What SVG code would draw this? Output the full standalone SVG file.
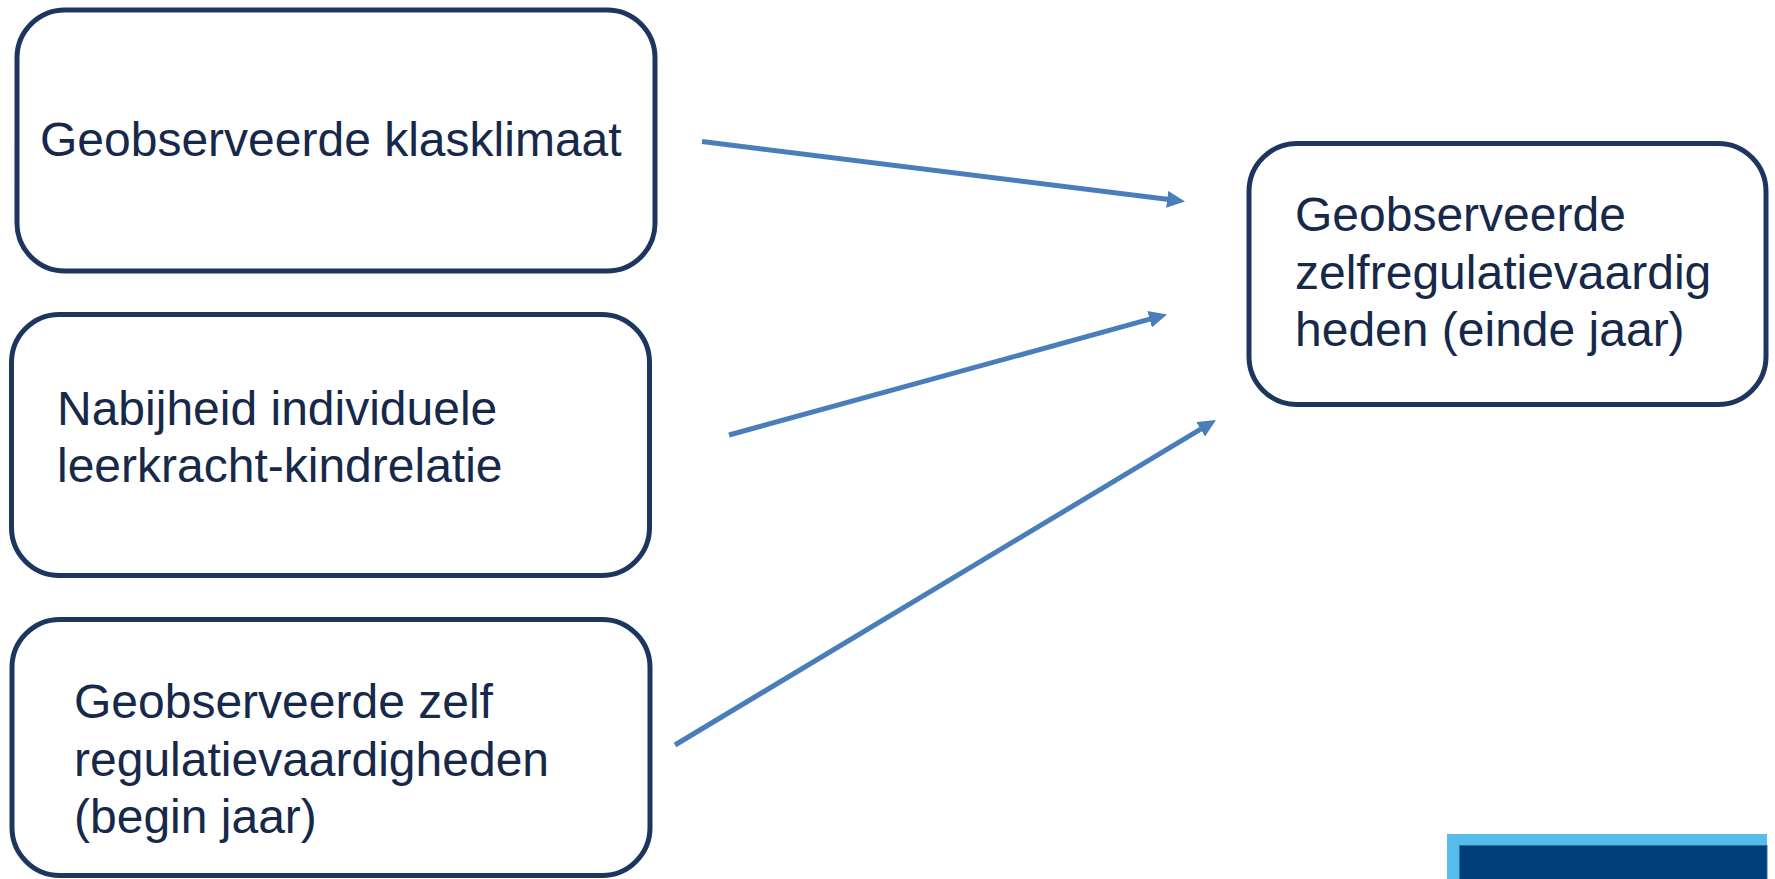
<svg xmlns="http://www.w3.org/2000/svg" width="1775" height="879" viewBox="0 0 1775 879">
  <style>
    .box { fill: #ffffff; stroke: #1c3660; stroke-width: 5; }
    .lbl { font-family: "Liberation Sans", Arial, sans-serif; font-size: 48px; fill: #17294a; }
    .conn { stroke: #4a7ebb; stroke-width: 5; fill: none; marker-end: url(#arrow); }
  </style>
  <defs>
    <marker id="arrow" markerUnits="userSpaceOnUse" markerWidth="18" markerHeight="17" refX="4" refY="8.5" orient="auto" viewBox="0 0 18 17">
      <path d="M0,0 L18,8.5 L0,17 z" fill="#4a7ebb"/>
    </marker>
  </defs>
  <rect width="1775" height="879" fill="#ffffff"/>

  <g id="node-klasklimaat">
    <rect class="box" x="17" y="10" width="638" height="261" rx="48" ry="48"/>
    <text class="lbl" x="40" y="156">Geobserveerde klasklimaat</text>
  </g>

  <g id="node-nabijheid">
    <rect class="box" x="11.5" y="314.5" width="638" height="261" rx="48" ry="48"/>
    <text class="lbl" x="57" y="425">Nabijheid individuele</text>
    <text class="lbl" x="57" y="482">leerkracht-kindrelatie</text>
  </g>

  <g id="node-zelfregulatie-begin">
    <rect class="box" x="12" y="619.5" width="638" height="256" rx="48" ry="48"/>
    <text class="lbl" x="74" y="718">Geobserveerde zelf</text>
    <text class="lbl" x="74" y="776">regulatievaardigheden</text>
    <text class="lbl" x="74" y="833">(begin jaar)</text>
  </g>

  <g id="node-zelfregulatie-einde">
    <rect class="box" x="1249" y="143.5" width="517" height="261" rx="48" ry="48"/>
    <text class="lbl" x="1295" y="231">Geobserveerde</text>
    <text class="lbl" x="1295" y="288.5">zelfregulatievaardig</text>
    <text class="lbl" x="1295" y="346">heden (einde jaar)</text>
  </g>

  <g id="connectors">
    <line class="conn" x1="702" y1="141.5" x2="1171.1" y2="199.8"/>
    <line class="conn" x1="729" y1="435" x2="1153.5" y2="318.2"/>
    <line class="conn" x1="675" y1="745" x2="1204" y2="427.2"/>
  </g>

  <g id="corner-block">
    <rect x="1447" y="834" width="320" height="45" fill="#55bceb"/>
    <rect x="1459.5" y="845.5" width="307.5" height="34" fill="#003e7b" stroke="#2a6fa3" stroke-width="1"/>
  </g>
</svg>
